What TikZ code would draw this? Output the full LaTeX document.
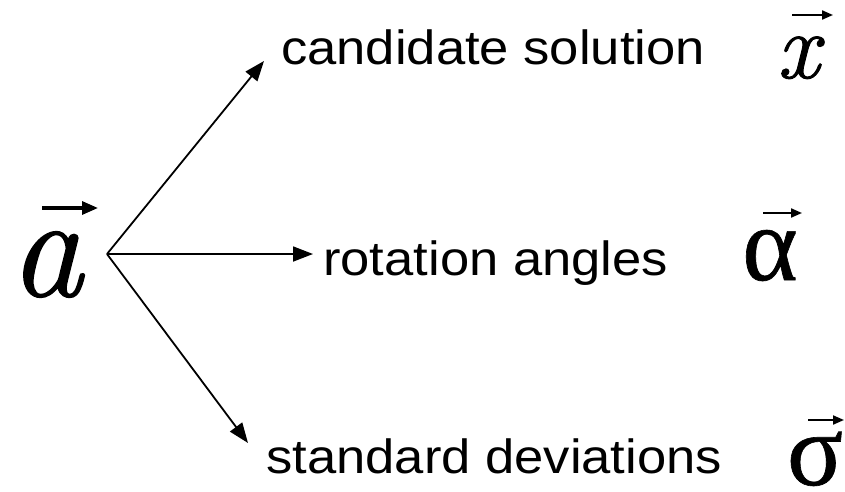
\documentclass[tikz,border=0pt]{standalone}
\usepackage{fontspec}
\setmainfont{Liberation Serif}
\setsansfont{Liberation Sans}
\newfontfamily\lmrb[FakeBold=1]{Latin Modern Roman}
\newfontfamily\grk[FakeBold=0.6]{Liberation Serif}
\usetikzlibrary{arrows.meta}
\tikzset{
  lbl/.style={anchor=base west, inner sep=0pt, xscale=1.095, font=\sffamily\fontsize{48}{52}\selectfont},
  sym/.style={anchor=base, inner sep=0pt},
  conn/.style={line width=1.8pt, -{Triangle[length=20pt,width=15pt]}},
  vecar/.style={line width=2pt, -{Triangle[length=11pt,width=9pt]}},
  vecarthick/.style={line width=3.2pt, -{Triangle[length=16pt,width=13pt]}}
}
\begin{document}
\begin{tikzpicture}[x=1pt,y=-1pt]
\useasboundingbox (0,0) rectangle (845,492);
% texts
\node[lbl] (cand) at (281,65) {candidate solution};
\node[lbl] (rot) at (323,275) {rotation angles};
\node[lbl] (std) at (266,473) {standard deviations};
% symbols
\node[sym] (a) at (46,296) {\lmrb\itshape\fontsize{146}{150}\selectfont a};
\node[sym] (x) at (798,78) {\lmrb\itshape\fontsize{94}{96}\selectfont x};
\node[sym] (alpha) at (770,280) {\grk\fontsize{106}{110}\selectfont α};
\node[sym] (sigma) at (815,485) {\grk\fontsize{104}{110}\selectfont σ};
% connectors
\coordinate (o) at (107,254);
\coordinate (t1) at (264,61);
\coordinate (t2) at (313,254);
\coordinate (t3) at (248,443);
\draw[conn] (o) -- (t1);
\draw[conn] (o) -- (t2);
\draw[conn] (o) -- (t3);
% vector arrows
\coordinate (va1) at (42,208); \coordinate (va2) at (98,208);
\coordinate (vx1) at (792,15); \coordinate (vx2) at (833,15);
\coordinate (val1) at (763,213); \coordinate (val2) at (802,213);
\coordinate (vs1) at (808,420); \coordinate (vs2) at (844,420);
\draw[vecarthick] (va1) -- (va2);
\draw[vecar] (vx1) -- (vx2);
\draw[vecar] (val1) -- (val2);
\draw[vecar] (vs1) -- (vs2);
\end{tikzpicture}
\end{document}
